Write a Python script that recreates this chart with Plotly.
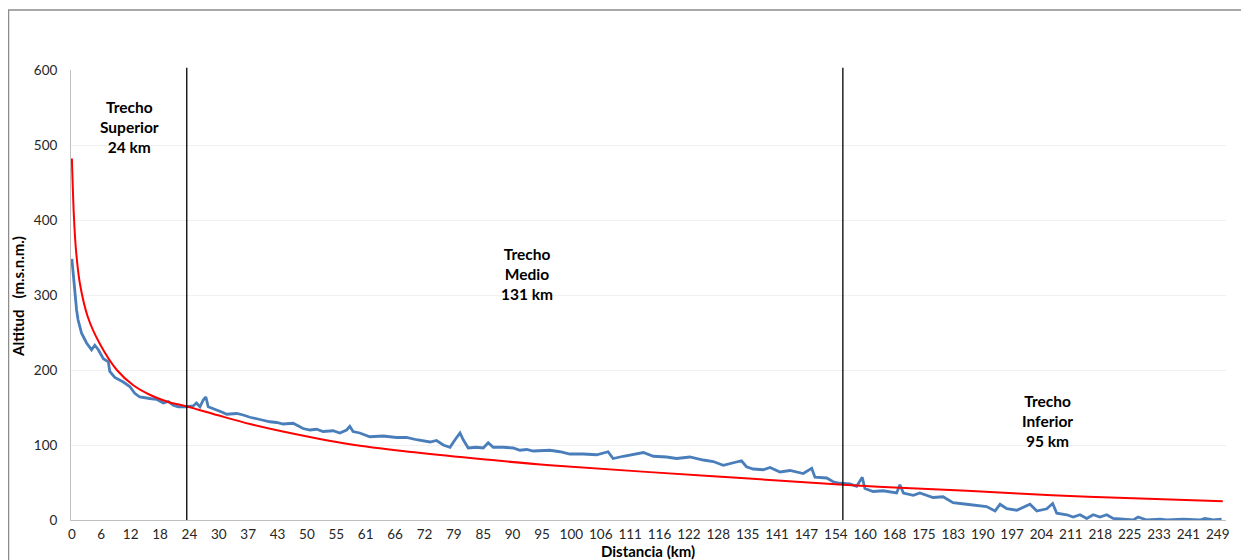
import plotly.graph_objects as go

# Category-axis tick labels (Distancia, km) – evenly spaced positions 0..39
tick_labels = ["0", "6", "12", "18", "24", "30", "37", "43", "50", "55", "61", "66", "72",
               "79", "85", "90", "95", "100", "106", "111", "116", "122", "128", "135",
               "141", "147", "154", "160", "168", "175", "183", "190", "197", "204",
               "211", "218", "225", "233", "241", "249"]
tick_pos = list(range(len(tick_labels)))

# Perfil longitudinal (blue): position along the category axis and altitude (m.s.n.m.)
perfil_pos = [0.0, 0.07, 0.16, 0.21, 0.33, 0.50, 0.67, 0.78, 0.90, 1.07, 1.24, 1.29, 1.46,
              1.75, 1.97, 2.14, 2.31,
              2.65, 2.88, 3.11, 3.28, 3.45, 3.62, 3.90, 4.13, 4.24, 4.36, 4.47, 4.56, 4.64,
              4.93, 5.10, 5.27, 5.61, 5.83, 6.06, 6.40, 6.74, 6.97, 7.19, 7.53, 7.87, 8.10,
              8.33, 8.55, 8.89, 9.12, 9.35, 9.46, 9.57, 9.80, 10.14, 10.60, 11.05, 11.39,
              11.73, 12.19, 12.41, 12.64, 12.87, 13.04, 13.21, 13.32, 13.49, 13.77, 14.00,
              14.17, 14.34, 14.68, 15.02, 15.25, 15.48, 15.70, 16.04, 16.27,
              16.61, 16.95, 17.40, 17.86, 18.25, 18.42, 18.77, 19.11, 19.45, 19.79, 20.24,
              20.58, 21.03, 21.49, 21.83, 22.17, 22.40, 22.79, 22.96, 23.19, 23.53, 23.76,
              24.10, 24.44, 24.89, 25.18, 25.29, 25.69, 25.91, 26.14, 26.48, 26.71, 26.90,
              26.99, 27.27, 27.61, 28.07,
              28.18, 28.30, 28.64, 28.86, 29.31, 29.65, 29.99, 30.45, 30.79, 31.13, 31.42,
              31.59, 31.82, 32.16, 32.61, 32.84, 33.18, 33.38, 33.52, 33.86, 34.08, 34.31,
              34.54, 34.76, 34.99, 35.22, 35.44, 35.67, 36.12, 36.29, 36.58, 37.03, 37.26,
              37.83, 38.39, 38.56, 38.85, 39.13]
perfil_alt = [348, 316, 280, 267, 249, 236, 227, 233, 227, 215, 211, 198, 190,
              184, 178, 169, 164,
              162, 161, 156, 158, 153, 151, 151, 152, 156, 151, 160, 164, 151,
              147, 144, 141, 142, 140, 137, 134, 131, 130, 128, 129, 122, 120,
              121, 118, 119, 116, 120, 125, 118, 116, 111, 112, 110, 110,
              107, 104, 106, 100, 97, 107, 116, 107, 96, 97, 96,
              103, 97, 97, 96, 93, 94, 92, 93, 93,
              91, 88, 88, 87, 91, 82, 85, 88, 90, 85, 84,
              82, 84, 80, 78, 73, 75, 79, 71, 68, 67, 70,
              64, 66, 62, 69, 57, 56, 51, 49, 48, 45, 57,
              42, 38, 39, 36,
              47, 36, 33, 36, 30, 31, 23, 21, 20, 18, 12,
              21, 15, 13, 21, 12, 15, 22, 9, 7, 4, 7,
              2, 7, 4, 7, 2, 1, 0, 4, 0, 1, 0,
              1, 0, 2, 0, 1]

# Tendencia (red)
tend_pos = [0, 0.07, 0.14, 0.27, 0.54, 0.95, 1.53, 2.08, 2.65, 3.23, 3.95, 4.94, 6.06,
            7.18, 9.46, 11.74, 13.99, 16.27, 21.96, 26.25, 28.18, 30.46, 33.36, 36.11, 39.17]
tend_alt = [482, 404, 360, 316, 271, 235, 200, 180, 167, 158, 151, 140, 128,
            118, 101, 90, 81, 73, 58, 47, 43, 39, 33, 29, 25]

# Section boundaries (category-axis positions) and labels
limites_pos = [3.91, 26.24]
tramos_texto = ["Trecho<br>Superior<br>24 km", "Trecho<br>Medio<br>131 km", "Trecho<br>Inferior<br>95 km"]
tramos_pos = [1.97, 15.49, 33.19]
tramos_alt = [524, 328, 132]

font_fam = "Lato, 'Open Sans', sans-serif"

fig = go.Figure()
fig.add_trace(go.Scatter(x=perfil_pos, y=perfil_alt, mode="lines",
                         line=dict(color="#4A7EBB", width=2.8), showlegend=False))
fig.add_trace(go.Scatter(x=tend_pos, y=tend_alt, mode="lines", line_shape="spline",
                         line=dict(color="#FF0000", width=2), showlegend=False))

for xp in limites_pos:
    fig.add_shape(type="line", xref="x", yref="paper", x0=xp, x1=xp, y0=0, y1=1.005,
                  line=dict(color="black", width=1.3))

for t, xp, yp in zip(tramos_texto, tramos_pos, tramos_alt):
    fig.add_annotation(x=xp, y=yp, xref="x", yref="y", text=t, showarrow=False,
                       xanchor="center", yanchor="middle",
                       font=dict(family=font_fam, size=15.5, color="black", weight="bold"),
                       align="center")

# axis titles
fig.add_annotation(x=0.4996, y=-0.0689, xref="paper", yref="paper", text="Distancia (km)",
                   showarrow=False, xanchor="center", yanchor="middle",
                   font=dict(family=font_fam, size=15, color="black", weight="bold"))
fig.add_annotation(x=-0.0459, y=0.498, xref="paper", yref="paper",
                   text="Altitud&nbsp;&nbsp;&nbsp;(m.s.n.m.)", textangle=-90,
                   showarrow=False, xanchor="center", yanchor="middle",
                   font=dict(family=font_fam, size=15, color="black", weight="bold"))

# outer frame
fig.add_shape(type="path", xref="paper", yref="paper",
              path="M -0.0541,-0.2 L -0.0541,1.1333 L 1.05,1.1333",
              line=dict(color="#8C8C8C", width=1.5))

fig.update_layout(
    width=1241, height=552,
    margin=dict(l=63, r=23, t=62, b=40),
    paper_bgcolor="white", plot_bgcolor="white",
    font=dict(family=font_fam, size=13.5, color="#262626"),
    xaxis=dict(range=[-0.03, 39.28], tickmode="array", tickvals=tick_pos, ticktext=tick_labels,
               showgrid=False, zeroline=False, showline=True, linecolor="#BFBFBF", linewidth=1,
               ticks="", tickfont=dict(size=13.5), automargin=False, ticklabelstandoff=2),
    yaxis=dict(range=[0, 600], tickvals=[0, 100, 200, 300, 400, 500, 600],
               showgrid=True, gridcolor="#F0F0F0", gridwidth=1, zeroline=False,
               showline=True, linecolor="#BFBFBF", linewidth=1, ticks="",
               ticklabelstandoff=10, tickfont=dict(size=13.5), automargin=False),
)

fig.write_html("out.html")
